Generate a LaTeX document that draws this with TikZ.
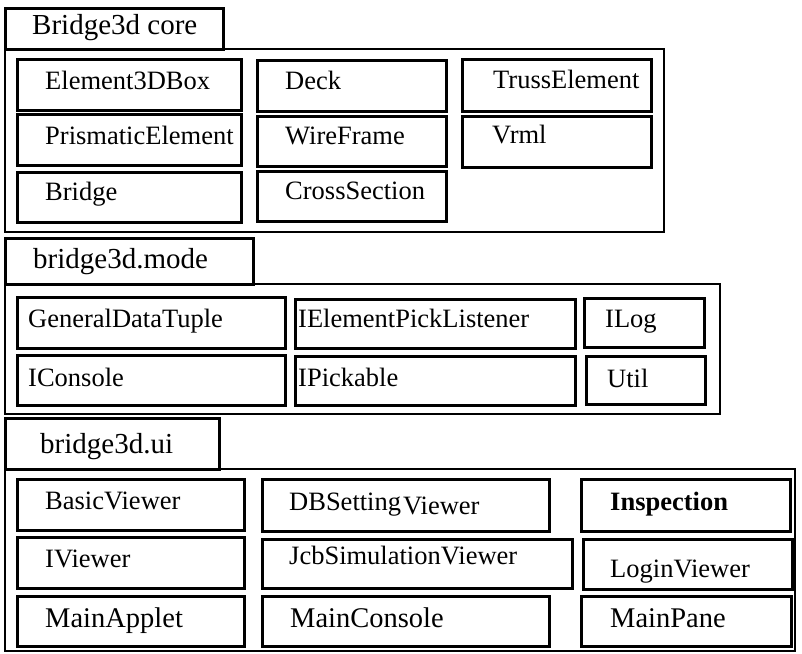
\documentclass[tikz,border=0pt]{standalone}
\usepackage{fontspec}
\setmainfont{Liberation Serif}
\tikzset{
  x=1pt, y=-1pt,
  cbox/.style={draw, line width=3pt, rectangle, inner sep=0pt, anchor=north west},
  pbox/.style={draw, line width=2pt, rectangle, inner sep=0pt, anchor=north west},
  tbox/.style={draw, line width=2.6pt, rectangle, inner sep=0pt, anchor=north west},
  ctext/.style={anchor=base west, inner sep=0pt, font=\fontsize{26.5}{30}\selectfont},
  btext/.style={ctext, font=\fontsize{28.5}{32}\selectfont},
  ttext/.style={ctext, font=\fontsize{29}{32}\selectfont}
}
% #1 style, #2 name, #3 x1, #4 y1, #5 x2, #6 y2
\newcommand\mybox[6]{%
  \node[#1, minimum width={#5pt-#3pt}, minimum height={#6pt-#4pt}] (#2) at (#3,#4) {};}
% #1 style, #2 name, #3 x, #4 y, #5 text
\newcommand\mytext[5]{\node[#1] (#2) at (#3,#4) {#5};}
\begin{document}
\begin{tikzpicture}
\useasboundingbox[fill=white] (0,0) rectangle (802,653);
% ---------------- Bridge3d core ----------------
\mybox{pbox}{pkg1}{4}{48}{663}{231}
\mybox{tbox}{tab1}{4}{7}{222}{48}
\mytext{ttext}{tab1-t}{32}{34}{Bridge3d core}
\mybox{cbox}{c1}{16}{58}{240}{109}
\mytext{ctext}{c1-t}{45}{89}{Element3DBox}
\mybox{cbox}{c2}{16}{113}{240}{164}
\mytext{ctext}{c2-t}{45}{144}{PrismaticElement}
\mybox{cbox}{c3}{16}{171}{240}{221}
\mytext{ctext}{c3-t}{45}{200}{Bridge}
\mybox{cbox}{c4}{256}{59}{445}{110}
\mytext{ctext}{c4-t}{285}{89}{Deck}
\mybox{cbox}{c5}{256}{115}{445}{165}
\mytext{ctext}{c5-t}{285}{144}{WireFrame}
\mybox{cbox}{c6}{256}{170}{445}{220}
\mytext{ctext}{c6-t}{285}{199}{CrossSection}
\mybox{cbox}{c7}{461}{58}{650}{110}
\mytext{ctext}{c7-t}{493}{88}{TrussElement}
\mybox{cbox}{c8}{461}{115}{650}{166}
\mytext{ctext}{c8-t}{492}{143}{Vrml}
% ---------------- bridge3d.mode ----------------
\mybox{pbox}{pkg2}{4}{283}{719}{413}
\mybox{tbox}{tab2}{4}{237}{252}{283}
\mytext{ttext}{tab2-t}{33}{268}{bridge3d.mode}
\mybox{cbox}{m1}{16}{296}{284}{347}
\mytext{ctext}{m1-t}{28}{327}{GeneralDataTuple}
\mybox{cbox}{m2}{16}{354}{284}{404}
\mytext{ctext}{m2-t}{28}{386}{IConsole}
\mybox{cbox}{m3}{294}{298}{574}{347}
\mytext{ctext}{m3-t}{298}{327}{IElementPickListener}
\mybox{cbox}{m4}{294}{355}{574}{404}
\mytext{ctext}{m4-t}{298}{386}{IPickable}
\mybox{cbox}{m5}{583}{297}{703}{346}
\mytext{ctext}{m5-t}{605}{327}{ILog}
\mybox{cbox}{m6}{585}{355}{704}{403}
\mytext{ctext}{m6-t}{607}{387}{Util}
% ---------------- bridge3d.ui ----------------
\mybox{pbox}{pkg3}{4}{468}{794}{650}
\mybox{tbox}{tab3}{4}{417}{218}{468}
\mytext{ttext}{tab3-t}{40}{453}{bridge3d.ui}
\mybox{cbox}{u1}{16}{478}{243}{529}
\mytext{ctext}{u1-t}{45}{509}{BasicViewer}
\mybox{cbox}{u2}{16}{536}{243}{587}
\mytext{ctext}{u2-t}{45}{567}{IViewer}
\mybox{cbox}{u3}{16}{595}{243}{645}
\mytext{btext}{u3-t}{45}{627}{MainApplet}
\mybox{cbox}{u4}{261}{478}{548}{530}
\mytext{ctext}{u4-t}{289}{510}{DBSetting\kern2pt\raisebox{-4pt}{Viewer}}
\mybox{cbox}{u5}{261}{538}{571}{587}
\mytext{ctext}{u5-t}{289}{564}{JcbSimulationViewer}
\mybox{cbox}{u6}{261}{595}{548}{645}
\mytext{btext}{u6-t}{290}{627}{MainConsole}
\mybox{cbox}{u7}{580}{478}{789}{530}
\mytext{ctext}{u7-t}{610}{510}{\bfseries Inspection}
\mybox{cbox}{u8}{582}{538}{791}{588}
\mytext{ctext}{u8-t}{610}{577}{LoginViewer}
\mybox{cbox}{u9}{580}{595}{790}{645}
\mytext{btext}{u9-t}{610}{627}{MainPane}
\end{tikzpicture}
\end{document}
